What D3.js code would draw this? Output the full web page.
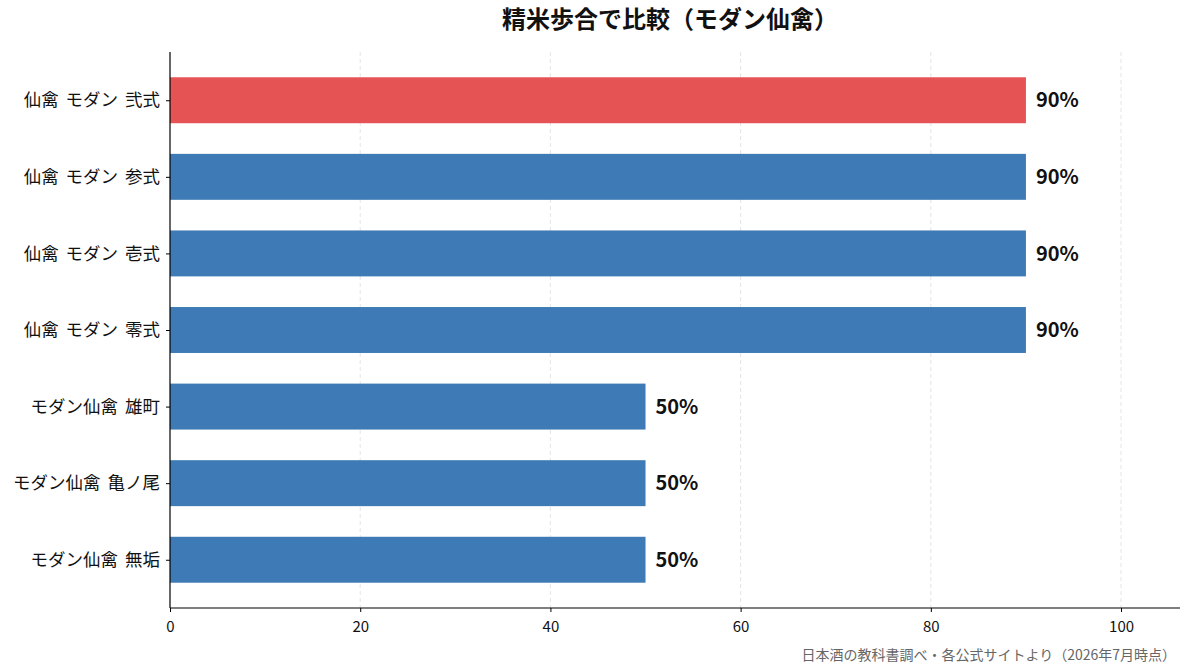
<!DOCTYPE html>
<html><head><meta charset="utf-8">
<script src="https://cdn.jsdelivr.net/npm/d3@7"></script>
<style>body{margin:0;background:#fff}svg{display:block}text{font-family:"Noto Sans CJK JP","Noto Sans",sans-serif}</style>
</head><body><svg id="c" width="1193" height="672"></svg>
<script>
const categories = ["仙禽 モダン 弐式","仙禽 モダン 参式","仙禽 モダン 壱式","仙禽 モダン 零式","モダン仙禽 雄町","モダン仙禽 亀ノ尾","モダン仙禽 無垢"];
const values = [90,90,90,90,50,50,50];
const highlight = [true,false,false,false,false,false,false];
const xTicks = [0,20,40,60,80,100];
const title = "精米歩合で比較（モダン仙禽）";
const source = "日本酒の教科書調べ・各公式サイトより（2026年7月時点）";

const svg = d3.select("#c");
const L = 170, R = 1180, T = 52, B = 608;
const x = d3.scaleLinear().domain([0, d3.max(values) * 1.18]).range([L, R]);
const n = categories.length;
const y = d3.scaleLinear().domain([-0.63, n - 1 + 0.63]).range([T, B]);
const barH = y(0.6) - y(0);

// grid
svg.append("g").selectAll("line").data(xTicks.filter(d => d > 0)).join("line")
  .attr("x1", d => x(d)).attr("x2", d => x(d)).attr("y1", T).attr("y2", B)
  .attr("stroke", "#dddddd").attr("stroke-width", 0.8).attr("stroke-dasharray", "4,3");

// bars
svg.append("g").selectAll("rect").data(values).join("rect")
  .attr("x", x(0)).attr("y", (d, i) => y(i) - barH / 2)
  .attr("width", d => x(d) - x(0)).attr("height", barH)
  .attr("fill", (d, i) => highlight[i] ? "#e55354" : "#3e7bb6");

// value labels
svg.append("g").selectAll("text").data(values).join("text")
  .attr("x", d => x(d) + 10).attr("y", (d, i) => y(i))
  .attr("dy", "0.36em").attr("font-size", 20).attr("font-weight", "bold").attr("fill", "#111")
  .text(d => d + "%");

// y axis
const ya = svg.append("g").attr("transform", `translate(${L},0)`)
  .call(d3.axisLeft(y).tickValues(d3.range(n)).tickFormat(i => categories[i]).tickSize(4).tickPadding(6));
ya.select(".domain").attr("d", `M0,${T}V${B}`).attr("stroke", "#000").attr("stroke-width", 1.2);
ya.selectAll("text").attr("font-size", 17.5).attr("fill", "#111").attr("word-spacing", 3);

// x axis
const xa = svg.append("g").attr("transform", `translate(0,${B})`)
  .call(d3.axisBottom(x).tickValues(xTicks).tickSize(4).tickPadding(9));
xa.select(".domain").attr("d", `M${L},0H${R}`).attr("stroke", "#000").attr("stroke-width", 1.2);
xa.selectAll("text").attr("font-size", 15).attr("fill", "#111");

// title
svg.append("text").attr("x", 670).attr("y", 28).attr("text-anchor", "middle")
  .attr("font-size", 24).attr("font-weight", "bold").attr("fill", "#111").text(title);

// source
svg.append("text").attr("x", 1176).attr("y", 660).attr("text-anchor", "end")
  .attr("font-size", 14).attr("fill", "#666").text(source);
</script></body></html>
